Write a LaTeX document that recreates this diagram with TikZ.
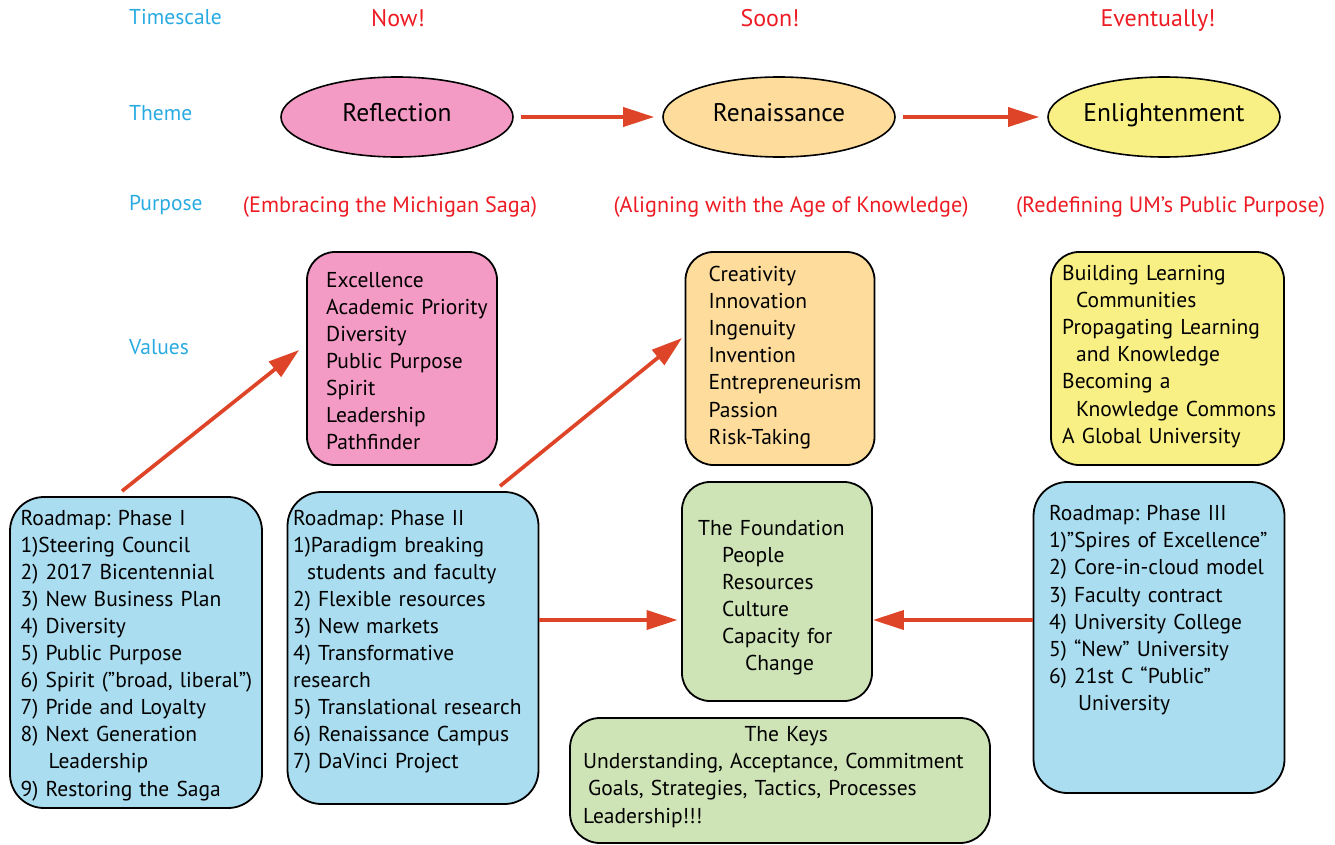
\documentclass[tikz,border=0pt]{standalone}
\usepackage{fontspec}
\setmainfont{PT Sans}
\usepackage{xcolor}
\usetikzlibrary{calc,shapes,fit,arrows.meta}
\frenchspacing

\definecolor{labelblue}{HTML}{29ABE2}
\definecolor{headred}{HTML}{ED1C24}
\definecolor{arrowred}{HTML}{DE4528}
\definecolor{pinkfill}{HTML}{F39BC4}
\definecolor{orangefill}{HTML}{FDDC9C}
\definecolor{yellowfill}{HTML}{F8EF85}
\definecolor{bluefill}{HTML}{AADDEF}
\definecolor{greenfill}{HTML}{CFE4B6}

\tikzset{
  box/.style={draw,line width=1.8pt,rounded corners=28pt,inner sep=0pt},
  oval/.style={ellipse,draw,line width=1.6pt,minimum width=232pt,minimum height=80pt,inner sep=0pt,
    text height=18pt,text depth=8.5pt,font=\fontsize{25.5}{28}\selectfont},
  txt/.style={font=\fontsize{21.5}{27.1}\selectfont,align=left,text width=440pt,inner sep=0pt,anchor=base west},
  lbl/.style={text=labelblue,font=\fontsize{21.5}{25}\selectfont,inner sep=0pt,anchor=base west},
  hdr/.style={text=headred,font=\fontsize{24}{28}\selectfont,inner sep=0pt,anchor=base},
  purp/.style={text=headred,font=\fontsize{22.2}{25}\selectfont,inner sep=0pt,anchor=base},
  redarrow/.style={draw=arrowred,line width=3.7pt,-{Triangle[length=31pt,width=19pt]}}
}

\begin{document}
\begin{tikzpicture}[x=1pt,y=-1pt]
\useasboundingbox (0,0) rectangle (1335,845);
% \draw[help lines,step=50] (0,0) grid (1335,845);

\node[lbl] (ltime) at (129,25) {Timescale};
\node[lbl] (ltheme) at (129,121) {Theme};
\node[lbl] (lpurp) at (129,211) {Purpose};
\node[lbl] (lvals) at (129,354) {Values};

\node[hdr] (now) at (398,27) {Now!};
\node[hdr] (soon) at (770,27) {Soon!};
\node[hdr] (event) at (1158,27) {Eventually!};

\node (refl) at (397,117)[oval,fill=pinkfill]{Reflection};
\node (rena) at (779,117)[oval,fill=orangefill]{Renaissance};
\node (enli) at (1164,117)[oval,fill=yellowfill]{Enlightenment};
\draw[redarrow,shorten <=7pt,shorten >=8pt] (refl) -- (rena);
\draw[redarrow,shorten <=7pt,shorten >=8pt] (rena) -- (enli);

\node[purp] (purp1) at (390,212) {(Embracing the Michigan Saga)};
\node[purp] (purp2) at (791,212) {(Aligning with the Age of Knowledge)};
\node[purp] (purp3) at (1170.5,212) {(Redefining UM’s Public Purpose)};

% values
\node (vals1) at (402,358.5)[box,fill=pinkfill,minimum width=190pt,minimum height=213pt]{};
\node[txt] (vals1txt) at (326,287) {Excellence\\Academic Priority\\Diversity\\Public Purpose\\Spirit\\Leadership\\Pathfinder};
\node (vals2) at (780,358.5)[box,fill=orangefill,minimum width=189pt,minimum height=213pt]{};
\node[txt] (vals2txt) at (708.5,281.5) {Creativity\\Innovation\\Ingenuity\\Invention\\Entrepreneurism\\Passion\\Risk-Taking};
\node (vals3) at (1167.5,358.5)[box,fill=yellowfill,minimum width=233pt,minimum height=213pt]{};
\node[txt] (vals3txt) at (1062,280.5) {Building Learning\\\hspace*{14pt}Communities\\Propagating Learning\\\hspace*{14pt}and Knowledge\\Becoming a\\\hspace*{14pt}Knowledge Commons\\A Global University};

% roadmap
\node (road1) at (136,652.5)[box,rounded corners=34pt,fill=bluefill,minimum width=252pt,minimum height=311pt]{};
\node[txt] (road1txt) at (20.5,525) {Roadmap: Phase I\\1)Steering Council\\2) 2017 Bicentennial\\3) New Business Plan\\4) Diversity\\5) Public Purpose\\6) Spirit (”broad, liberal”)\\7) Pride and Loyalty\\8) Next Generation\\\hspace*{28pt}Leadership\\9) Restoring the Saga};
\node (road2) at (413,648)[box,rounded corners=34pt,fill=bluefill,minimum width=251pt,minimum height=312pt]{};
\node[txt] (road2txt) at (293,525) {Roadmap: Phase II\\1)Paradigm breaking\\\hspace*{14pt}students and faculty\\2) Flexible resources\\3) New markets\\4) Transformative\\research\\5) Translational research\\6) Renaissance Campus\\7) DaVinci Project};
\node (road3) at (1159,637.5)[box,rounded corners=34pt,fill=bluefill,minimum width=251pt,minimum height=311pt]{};
\node[txt] (road3txt) at (1049,520.7) {Roadmap: Phase III\\1)”Spires of Excellence”\\2) Core-in-cloud model\\3) Faculty contract\\4) University College\\5) “New” University\\6) 21st C “Public”\\\hspace*{29pt}University};

\node (found) at (777,591.5)[box,fill=greenfill,minimum width=190pt,minimum height=219pt]{};
\node[txt] (foundtxt) at (698,535) {The Foundation\\\hspace*{24pt}People\\\hspace*{24pt}Resources\\\hspace*{24pt}Culture\\\hspace*{24pt}Capacity for\\\hspace*{47pt}Change};

\node (keys) at (780,780.5)[box,rounded corners=30pt,fill=greenfill,minimum width=420pt,minimum height=125pt]{};
\node[txt] (keystxt) at (583,741.7) {\makebox[406pt]{The Keys}\\Understanding, Acceptance, Commitment\\\hspace*{5pt}Goals, Strategies, Tactics, Processes\\Leadership!!!};

\draw[redarrow] ([xshift=-14pt,yshift=5pt]road1.north) -- ([xshift=-7pt,yshift=8.5pt]vals1.west);
\draw[redarrow] ([xshift=87pt,yshift=5pt]road2.north) -- ([xshift=-2.5pt,yshift=20.5pt]vals2.west);
\draw[redarrow] ([yshift=28pt]road2.east) -- ([xshift=-3.5pt,yshift=-28.5pt]found.west);
\draw[redarrow] ([yshift=17.5pt]road3.west) -- ([yshift=-28.5pt]found.east);
\end{tikzpicture}
\end{document}
